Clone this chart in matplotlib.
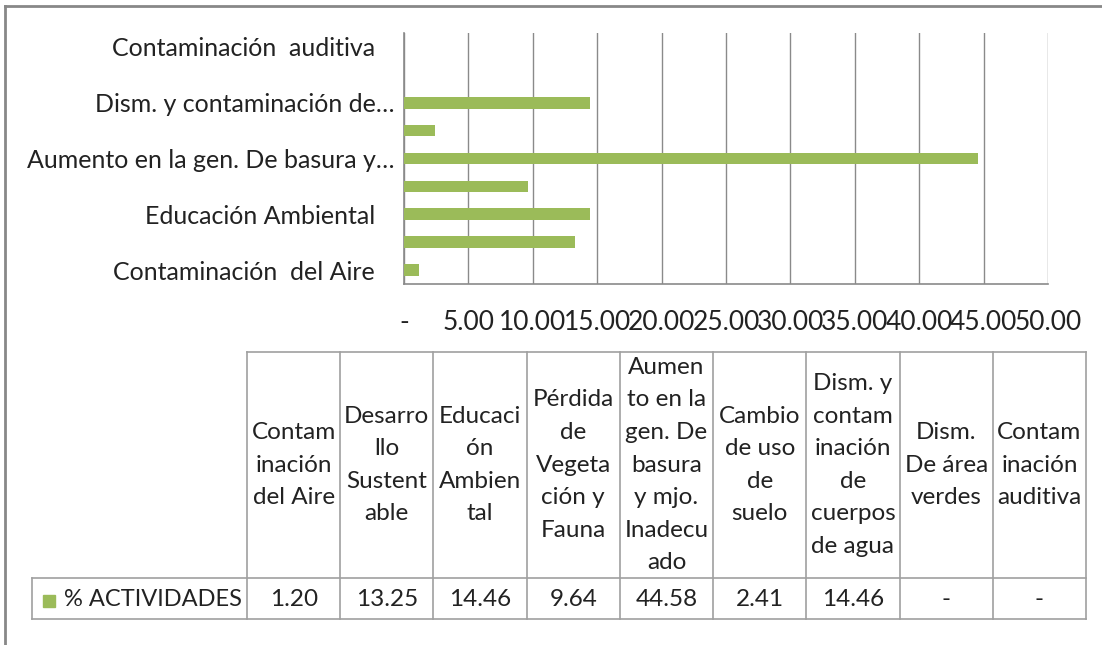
import matplotlib
matplotlib.use("Agg")
import matplotlib.pyplot as plt
from matplotlib.patches import Rectangle
from matplotlib.lines import Line2D

plt.rcParams['font.family'] = ['Lato', 'DejaVu Sans']

# ---------------- data ----------------
categories = [
    "Contaminación del Aire",
    "Desarrollo Sustentable",
    "Educación Ambiental",
    "Pérdida de Vegetación y Fauna",
    "Aumento en la gen. De basura y mjo. Inadecuado",
    "Cambio de uso de suelo",
    "Dism. y contaminación de cuerpos de agua",
    "Dism. De área verdes",
    "Contaminación auditiva",
]
values = [1.20, 13.25, 14.46, 9.64, 44.58, 2.41, 14.46, 0.0, 0.0]
axis_labels = [
    "Contaminación  del Aire   ", "", "Educación Ambiental   ", "",
    "Aumento en la gen. De basura y…", "", "Dism. y contaminación de…", "",
    "Contaminación  auditiva   ",
]
table_headers = [
    "Contam\ninación\ndel Aire",
    "Desarro\nllo\nSustent\nable",
    "Educaci\nón\nAmbien\ntal",
    "Pérdida\nde\nVegeta\nción y\nFauna",
    "Aumen\nto en la\ngen. De\nbasura\ny mjo.\nInadecu\nado",
    "Cambio\nde uso\nde\nsuelo",
    "Dism. y\ncontam\ninación\nde\ncuerpos\nde agua",
    "Dism.\nDe área\nverdes",
    "Contam\ninación\nauditiva",
]
series_name = "% ACTIVIDADES"
x_ticks = [0, 5, 10, 15, 20, 25, 30, 35, 40, 45, 50]
x_tick_labels = ["-", "5.00", "10.00", "15.00", "20.00", "25.00", "30.00",
                 "35.00", "40.00", "45.00", "50.00"]

# ---------------- style ----------------
W, H = 1102, 645
BAR = "#9BBB59"
TXT = "#222222"
GRID = "#8a8a8a"
TLINE = "#a0a0a0"

fig = plt.figure(figsize=(W / 100, H / 100), dpi=100)

# overlay axes in pixel coordinates for frame and table
ov = fig.add_axes([0, 0, 1, 1])
ov.set_xlim(0, W)
ov.set_ylim(H, 0)
ov.axis("off")

# outer chart frame (left & top visible)
ov.add_line(Line2D([5, 5], [6, H + 5], color="#888888", lw=2))
ov.add_line(Line2D([5, W + 5], [6, 6], color="#888888", lw=2))

# bar chart axes
left, right, top, bottom = 404, 1048, 33, 284
ax = fig.add_axes([left / W, 1 - bottom / H, (right - left) / W, (bottom - top) / H])
ypos = list(range(len(categories)))
ax.barh(ypos, values, height=0.42, color=BAR, linewidth=0, zorder=3)
ax.set_xlim(0, 50)
ax.set_ylim(-0.5, len(categories) - 0.5)
ax.set_xticks(x_ticks)
ax.set_xticklabels(x_tick_labels, fontsize=19, color=TXT)
ax.set_yticks(ypos)
ax.set_yticklabels(axis_labels, fontsize=18, color=TXT)
ax.tick_params(axis="x", length=0, pad=19)
ax.tick_params(axis="y", length=0, pad=7)
ax.grid(axis="x", color=GRID, lw=1, zorder=0)
for s in ["top", "right"]:
    ax.spines[s].set_visible(False)
for s in ["left", "bottom"]:
    ax.spines[s].set_color(GRID)
    ax.spines[s].set_linewidth(1.2)

# ---------------- data table ----------------
tx0, tx1 = 247, 1086
lx0 = 32
ty0, ty1, ty2 = 352, 578, 619
n = len(categories)
cw = (tx1 - tx0) / n

# header cells
ov.add_line(Line2D([tx0, tx1], [ty0, ty0], color=TLINE, lw=1.2))
for i in range(n + 1):
    x = tx0 + i * cw
    ov.add_line(Line2D([x, x], [ty0, ty2], color=TLINE, lw=1.2))
# data row
ov.add_line(Line2D([lx0, tx1], [ty1, ty1], color=TLINE, lw=1.2))
ov.add_line(Line2D([lx0, tx1], [ty2, ty2], color=TLINE, lw=1.2))
ov.add_line(Line2D([lx0, lx0], [ty1, ty2], color=TLINE, lw=1.2))

for i, (hdr, v) in enumerate(zip(table_headers, values)):
    cx = tx0 + (i + 0.5) * cw
    ov.text(cx, (ty0 + ty1) / 2, hdr, ha="center", va="center", fontsize=17.5,
            color=TXT, linespacing=1.68)
    ov.text(cx, (ty1 + ty2) / 2 + 1, f"{v:.2f}" if v else "-", ha="center",
            va="center", fontsize=17.5, color=TXT)

ov.add_patch(Rectangle((43, 595), 12, 12, color=BAR))
ov.text(64, (ty1 + ty2) / 2 + 1, series_name, ha="left", va="center", fontsize=17, color=TXT)

fig.savefig("out.png", dpi=100)
